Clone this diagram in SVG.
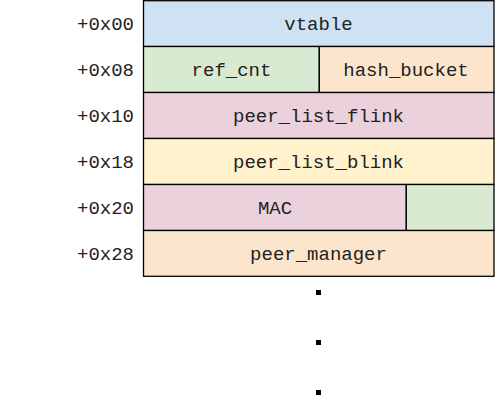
<svg xmlns="http://www.w3.org/2000/svg" width="495" height="418" viewBox="0 0 495 418">
<style>
.c{stroke:#000;stroke-width:1.3}
.t{font-family:"Liberation Mono","Courier New",monospace;font-size:19px;fill:#222;text-anchor:middle}
.o{font-family:"Liberation Mono","Courier New",monospace;font-size:19px;fill:#222;text-anchor:end}
</style>
<rect width="495" height="418" fill="#fff"/>
<g id="offsets">
<text class="o" x="134" y="30">+0x00</text>
<text class="o" x="134" y="76">+0x08</text>
<text class="o" x="134" y="122">+0x10</text>
<text class="o" x="134" y="168">+0x18</text>
<text class="o" x="134" y="214">+0x20</text>
<text class="o" x="134" y="260">+0x28</text>
</g>
<g id="vtable"><rect class="c" x="143.5" y="0.7" width="350.5" height="45.8" fill="#cfe2f3"/><text class="t" x="318.5" y="30">vtable</text></g>
<g id="ref_cnt"><rect class="c" x="143.5" y="46.5" width="175.8" height="46" fill="#d9ead3"/><text class="t" x="231.5" y="76">ref_cnt</text></g>
<g id="hash_bucket"><rect class="c" x="319.3" y="46.5" width="174.7" height="46" fill="#fce5cd"/><text class="t" x="406" y="76">hash_bucket</text></g>
<g id="peer_list_flink"><rect class="c" x="143.5" y="92.5" width="350.5" height="46" fill="#ead1dc"/><text class="t" x="318.5" y="122">peer_list_flink</text></g>
<g id="peer_list_blink"><rect class="c" x="143.5" y="138.5" width="350.5" height="46" fill="#fff2cc"/><text class="t" x="318.5" y="168">peer_list_blink</text></g>
<g id="MAC"><rect class="c" x="143.5" y="184.5" width="262.8" height="46" fill="#ead1dc"/><text class="t" x="275" y="214">MAC</text></g>
<g id="pad"><rect class="c" x="406.3" y="184.5" width="87.7" height="46" fill="#d9ead3"/></g>
<g id="peer_manager"><rect class="c" x="143.5" y="230.5" width="350.5" height="45.8" fill="#fce5cd"/><text class="t" x="318.5" y="260">peer_manager</text></g>
<g id="dots" fill="#000">
<rect x="316" y="290" width="5" height="5"/>
<rect x="316" y="340" width="5" height="5"/>
<rect x="316" y="390" width="5" height="5"/>
</g>
</svg>
